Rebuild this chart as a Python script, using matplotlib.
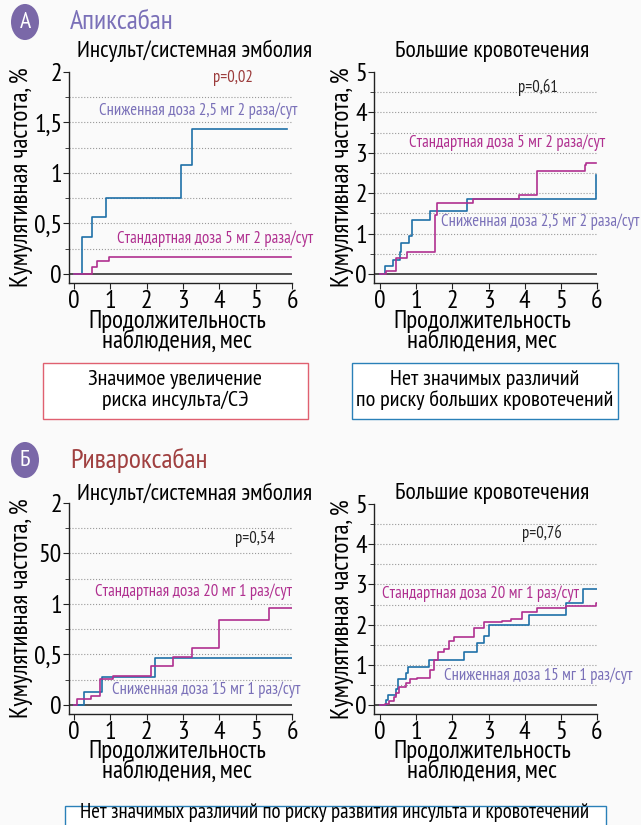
import matplotlib
matplotlib.use('Agg')
import matplotlib.pyplot as plt
from matplotlib.patches import Circle, Rectangle

plt.rcParams['font.family'] = ['PT Sans Narrow', 'DejaVu Sans']

# --- data (months, cumulative %) ---
apx_stroke_low_t = [0, 0.21, 0.23, 0.50, 0.87, 2.95, 3.24, 5.87]
apx_stroke_low_y = [0, 0.18, 0.37, 0.56, 0.75, 1.08, 1.44, 1.44]
apx_stroke_std_t = [0, 0.50, 0.64, 0.97, 5.97]
apx_stroke_std_y = [0, 0.07, 0.125, 0.165, 0.165]

apx_bleed_low_t = [0, 0.13, 0.35, 0.55, 0.59, 0.79, 0.87, 1.37, 2.40, 5.98, 5.98]
apx_bleed_low_y = [0, 0.20, 0.36, 0.54, 0.76, 0.94, 1.35, 1.57, 1.87, 1.87, 2.45]
apx_bleed_std_t = [0, 0.15, 0.44, 0.74, 1.53, 1.57, 2.57, 3.84, 4.34, 5.67, 5.70, 5.96]
apx_bleed_std_y = [0, 0.08, 0.39, 0.54, 1.46, 1.75, 1.85, 1.95, 2.55, 2.69, 2.76, 2.76]

riv_stroke_low_t = [0, 0.28, 0.77, 2.24, 6.0]
riv_stroke_low_y = [0, 0.13, 0.28, 0.46, 0.46]
riv_stroke_std_t = [0, 0.07, 0.46, 0.72, 1.08, 2.11, 2.72, 3.24, 3.99, 5.36, 6.0]
riv_stroke_std_y = [0, 0.056, 0.09, 0.26, 0.29, 0.39, 0.47, 0.56, 0.84, 0.96, 0.96]

riv_bleed_low_t = [0, 0.15, 0.22, 0.44, 0.50, 0.72, 0.78, 1.35, 2.31, 2.68, 2.86, 3.01,
                   4.12, 5.13, 5.61, 6.0]
riv_bleed_low_y = [0, 0.14, 0.26, 0.40, 0.65, 0.80, 0.94, 1.12, 1.32, 1.55, 1.73, 1.98,
                   2.25, 2.54, 2.88, 2.88]
riv_bleed_std_t = [0, 0.13, 0.24, 0.39, 0.44, 0.52, 0.72, 0.83, 1.03, 1.39, 1.48, 1.59,
                   1.77, 1.90, 2.03, 2.59, 2.86, 3.36, 3.62, 3.92, 4.34, 5.13, 5.96, 6.0]
riv_bleed_std_y = [0, 0.04, 0.10, 0.21, 0.31, 0.45, 0.55, 0.65, 0.68, 0.88, 1.13, 1.31,
                   1.40, 1.60, 1.69, 1.92, 2.06, 2.09, 2.15, 2.31, 2.41, 2.47, 2.54, 2.54]

stroke_ticks = [0, 0.5, 1, 1.5, 2]
stroke_minor = [0.25, 0.75, 1.25, 1.75]
apx_stroke_labels = ['0', '0,5', '1', '1,5', '2']
riv_stroke_labels = ['0', '0,5', '1', '50', '2']
bleed_ticks = [0, 1, 2, 3, 4, 5]
bleed_minor = [0.5, 1.5, 2.5, 3.5, 4.5]
bleed_labels = ['0', '1', '2', '3', '4', '5']

BLUE = '#1f70a8'
MAGENTA = '#b03090'
LAVENDER = '#7a70b8'
W, H = 641, 825
ANN = 12

fig = plt.figure(figsize=(6.41, 8.25), dpi=100)
fig.patch.set_facecolor('#fafafa')


def add_ax(l, t, r, b):
    return fig.add_axes([l / W, 1 - b / H, (r - l) / W, (b - t) / H])


def setup(ax, ymin, ymax, major, minor, labels, xmin):
    ax.set_facecolor('none')
    ax.set_xlim(xmin, 6)
    ax.set_ylim(ymin, ymax)
    for s in ['top', 'right']:
        ax.spines[s].set_visible(False)
    for s in ['left', 'bottom']:
        ax.spines[s].set_color('#222222')
        ax.spines[s].set_linewidth(1.0)
    ax.set_xticks(range(7))
    ax.set_yticks(major)
    ax.set_yticklabels(labels)
    ax.set_yticks(minor, minor=True)
    ax.tick_params(axis='both', which='major', direction='out', length=4,
                   labelsize=18.5, pad=1, color='#222222')
    ax.tick_params(axis='y', which='minor', direction='out', length=3, color='#222222')
    for v in major[1:-1] + minor:
        ax.plot([xmin, 6], [v, v], ls=':', color='#999999', lw=0.8, zorder=1)
    ax.plot([xmin, 6], [0, 0], color='#333333', lw=1.2, zorder=1)
    ax.set_ylabel('Кумулятивная частота, %', fontsize=18, labelpad=1)


def curves(ax, t1, y1, t2, y2):
    ax.step(t1, y1, where='post', color=BLUE, lw=1.2, zorder=3)
    ax.step(t2, y2, where='post', color=MAGENTA, lw=1.2, zorder=3)


ax1 = add_ax(69, 72, 292, 283)
setup(ax1, -0.09, 2, stroke_ticks, stroke_minor, apx_stroke_labels, -0.14)
curves(ax1, apx_stroke_low_t, apx_stroke_low_y, apx_stroke_std_t, apx_stroke_std_y)
ax1.text(4.38, 1.94, 'p=0,02', color='#9b3a3a', fontsize=ANN, ha='center', va='center')
ax1.text(3.41, 1.62, 'Сниженная доза 2,5 мг 2 раза/сут', color=LAVENDER, fontsize=ANN,
         ha='center', va='center')
ax1.text(3.88, 0.35, 'Стандартная доза 5 мг 2 раза/сут', color=MAGENTA, fontsize=ANN,
         ha='center', va='center')

ax2 = add_ax(374, 72, 597, 283)
setup(ax2, -0.22, 5, bleed_ticks, bleed_minor, bleed_labels, -0.17)
curves(ax2, apx_bleed_low_t, apx_bleed_low_y, apx_bleed_std_t, apx_bleed_std_y)
ax2.text(4.36, 4.63, 'p=0,61', color='#222222', fontsize=ANN, ha='center', va='center')
ax2.text(3.52, 3.25, 'Стандартная доза 5 мг 2 раза/сут', color=MAGENTA, fontsize=ANN,
         ha='center', va='center')
ax2.text(4.42, 1.29, 'Сниженная доза 2,5 мг 2 раза/сут', color=LAVENDER, fontsize=ANN,
         ha='center', va='center')

ax3 = add_ax(69, 503, 292, 714)
setup(ax3, -0.09, 2, stroke_ticks, stroke_minor, riv_stroke_labels, -0.14)
curves(ax3, riv_stroke_low_t, riv_stroke_low_y, riv_stroke_std_t, riv_stroke_std_y)
ax3.text(4.98, 1.64, 'p=0,54', color='#222222', fontsize=ANN, ha='center', va='center')
ax3.text(3.3, 1.12, 'Стандартная доза 20 мг 1 раз/сут', color=MAGENTA, fontsize=ANN,
         ha='center', va='center')
ax3.text(3.64, 0.15, 'Сниженная доза 15 мг 1 раз/сут', color=LAVENDER, fontsize=ANN,
         ha='center', va='center')

ax4 = add_ax(374, 504, 597, 714)
setup(ax4, -0.22, 5, bleed_ticks, bleed_minor, bleed_labels, -0.17)
curves(ax4, riv_bleed_low_t, riv_bleed_low_y, riv_bleed_std_t, riv_bleed_std_y)
ax4.text(4.47, 4.27, 'p=0,76', color='#222222', fontsize=ANN, ha='center', va='center')
ax4.text(2.77, 2.77, 'Стандартная доза 20 мг 1 раз/сут', color=MAGENTA, fontsize=ANN,
         ha='center', va='center')
ax4.text(4.37, 0.74, 'Сниженная доза 15 мг 1 раз/сут', color=LAVENDER, fontsize=ANN,
         ha='center', va='center')


def ftext(x, y, s, **kw):
    fig.text(x / W, 1 - y / H, s, **kw)


# titles and x labels (two lines, placed by baseline)
for y0 in [0, 443]:
    ftext(195, 51 + y0, 'Инсульт/системная эмболия', fontsize=17, ha='center', va='center')
    ftext(492, 51 + y0, 'Большие кровотечения', fontsize=17, ha='center', va='center')
for b1, b2 in [(328, 349), (758, 779)]:
    for xc in [177, 482]:
        ftext(xc, b1, 'Продолжительность', fontsize=18, ha='center', va='baseline')
        ftext(xc, b2, 'наблюдения, мес', fontsize=18, ha='center', va='baseline')

# section headers
for yc, letter, name, col in [(22, 'А', 'Апиксабан', '#7a70b8'),
                              (460, 'Б', 'Ривароксабан', '#a04040')]:
    fig.patches.append(Circle((25 / W, 1 - yc / H), 14 / W, transform=fig.transFigure,
                              facecolor='#7a68a8', edgecolor='none'))
    ftext(25, yc, letter, color='white', fontsize=17, ha='center', va='center')
    ftext(70, yc, name, color=col, fontsize=20, ha='left', va='center')

# conclusion boxes
def box(l, t, r, b, ec):
    fig.patches.append(Rectangle((l / W, 1 - b / H), (r - l) / W, (b - t) / H,
                                 transform=fig.transFigure, facecolor='white',
                                 edgecolor=ec, lw=1.0))


box(43, 363, 308, 419, '#e06070')
ftext(175, 390, 'Значимое увеличение\nриска инсульта/СЭ', fontsize=16, ha='center',
      va='center', linespacing=1.05)
box(352, 363, 618, 419, '#2a80b8')
ftext(485, 390, 'Нет значимых различий\nпо риску больших кровотечений', fontsize=16,
      ha='center', va='center', linespacing=1.05)
box(65, 806, 606, 830, '#2a80b8')
ftext(335, 812, 'Нет значимых различий по риску развития инсульта и кровотечений',
      fontsize=15, ha='center', va='center')

fig.savefig('out.png', dpi=100, facecolor=fig.get_facecolor())
